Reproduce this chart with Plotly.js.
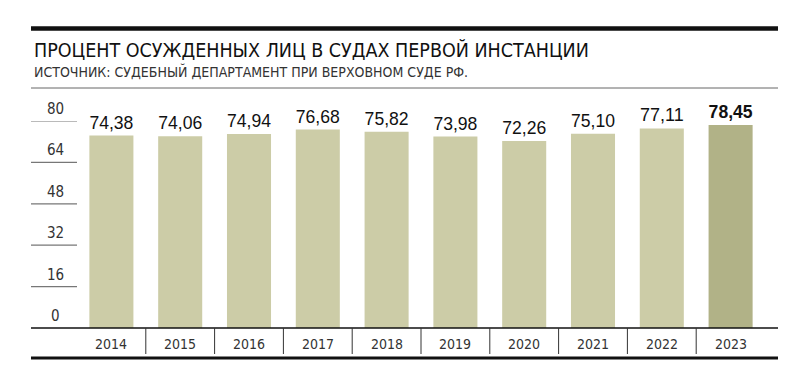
<!DOCTYPE html>
<html><head><meta charset="utf-8">
<script src="https://cdn.plot.ly/plotly-3.0.1.min.js"></script>
<style>html,body{margin:0;padding:0;background:#fff;}#chart{width:800px;height:392px;}</style>
</head><body><div id="chart"></div>
<script>
const years = ['2014','2015','2016','2017','2018','2019','2020','2021','2022','2023'];
const values = [74.38, 74.06, 74.94, 76.68, 75.82, 73.98, 72.26, 75.10, 77.11, 78.45];
const yTicks = [0, 16, 32, 48, 64, 80];
const titleText = 'ПРОЦЕНТ ОСУЖДЕННЫХ ЛИЦ В СУДАХ ПЕРВОЙ ИНСТАНЦИИ';
const sourceText = 'ИСТОЧНИК: СУДЕБНЫЙ ДЕПАРТАМЕНТ ПРИ ВЕРХОВНОМ СУДЕ РФ.';

const W = 800, H = 392;
const mL = 77, mR = 35, mT = 121, mB = 64;
const pw = W - mL - mR, ph = H - mT - mB;
const px = x => (x - mL) / pw;           // pixel -> paper x
const py = y => (H - mB - y) / ph;       // pixel -> paper y

const cond = '"Liberation Sans Narrow", "DejaVu Sans Condensed", "Roboto Condensed", sans-serif';
const labels = values.map((v, i) => {
  const s = v.toFixed(2).replace('.', ',');
  return i === values.length - 1 ? '<b>' + s + '</b>' : s;
});
const colors = values.map((v, i) => i === values.length - 1 ? '#b1b287' : '#cccca7');

const shapes = [];
const annotations = [];
// top thick rule
shapes.push({type:'line', xref:'paper', yref:'paper', x0:px(31), x1:px(778), y0:py(28.5), y1:py(28.5), line:{color:'#111', width:4.5}});
// thin rule under subtitle
shapes.push({type:'line', xref:'paper', yref:'paper', x0:px(31), x1:px(778), y0:py(88), y1:py(88), line:{color:'#666', width:1}});
// baseline
shapes.push({type:'line', xref:'paper', yref:'paper', x0:px(31), x1:px(778), y0:0, y1:0, line:{color:'#111', width:1.5}});
// bottom thick rule
shapes.push({type:'line', xref:'paper', yref:'paper', x0:px(31), x1:px(778), y0:py(358), y1:py(358), line:{color:'#111', width:3}});
// category separators
for (let i = 0; i < years.length - 1; i++) {
  shapes.push({type:'line', xref:'x', yref:'paper', x0:i+0.5, x1:i+0.5, y0:0, y1:py(354), line:{color:'#333', width:1}});
}
// y tick rules and labels
yTicks.forEach(t => {
  if (t > 0) shapes.push({type:'line', xref:'paper', yref:'y', x0:px(31), x1:0, y0:t, y1:t, line:{color:'#777', width:1.2}});
  annotations.push({xref:'paper', yref:'y', x:px(55), y:t, text:String(t), showarrow:false, xanchor:'center', yanchor:'bottom', yshift:1,
    font:{family:cond, size:15, color:'#333'}});
});
// title & source
annotations.push({xref:'paper', yref:'paper', x:px(32), y:py(50), text:titleText, showarrow:false, xanchor:'left', yanchor:'middle',
  font:{family:cond, size:19.5, color:'#111'}});
annotations.push({xref:'paper', yref:'paper', x:px(32), y:py(71.5), text:sourceText, showarrow:false, xanchor:'left', yanchor:'middle',
  font:{family:cond, size:14, color:'#333'}});
// category labels
years.forEach((y, i) => {
  annotations.push({xref:'x', yref:'paper', x:i, y:py(344), text:y, showarrow:false, xanchor:'center', yanchor:'middle',
    font:{family:cond, size:14, color:'#333'}});
});

const trace = {
  type:'bar', x: years, y: values, width: 0.64,
  marker:{color: colors, line:{width:0}},
  text: labels, textposition:'outside', cliponaxis:false,
  textfont:{family:'"Liberation Sans", Arial, sans-serif', size:18, color:'#111'},
  hoverinfo:'none'
};

const layout = {
  width: W, height: H,
  margin:{l:mL, r:mR, t:mT, b:mB, pad:0},
  paper_bgcolor:'#fff', plot_bgcolor:'#fff',
  showlegend:false,
  xaxis:{type:'category', range:[-0.5, years.length - 0.5], showticklabels:false, showgrid:false, zeroline:false, showline:false, ticks:''},
  yaxis:{range:[0, 80], showticklabels:false, showgrid:false, zeroline:false, showline:false, ticks:''},
  shapes, annotations
};
Plotly.newPlot('chart', [trace], layout, {staticPlot:true, displayModeBar:false});
</script></body></html>
